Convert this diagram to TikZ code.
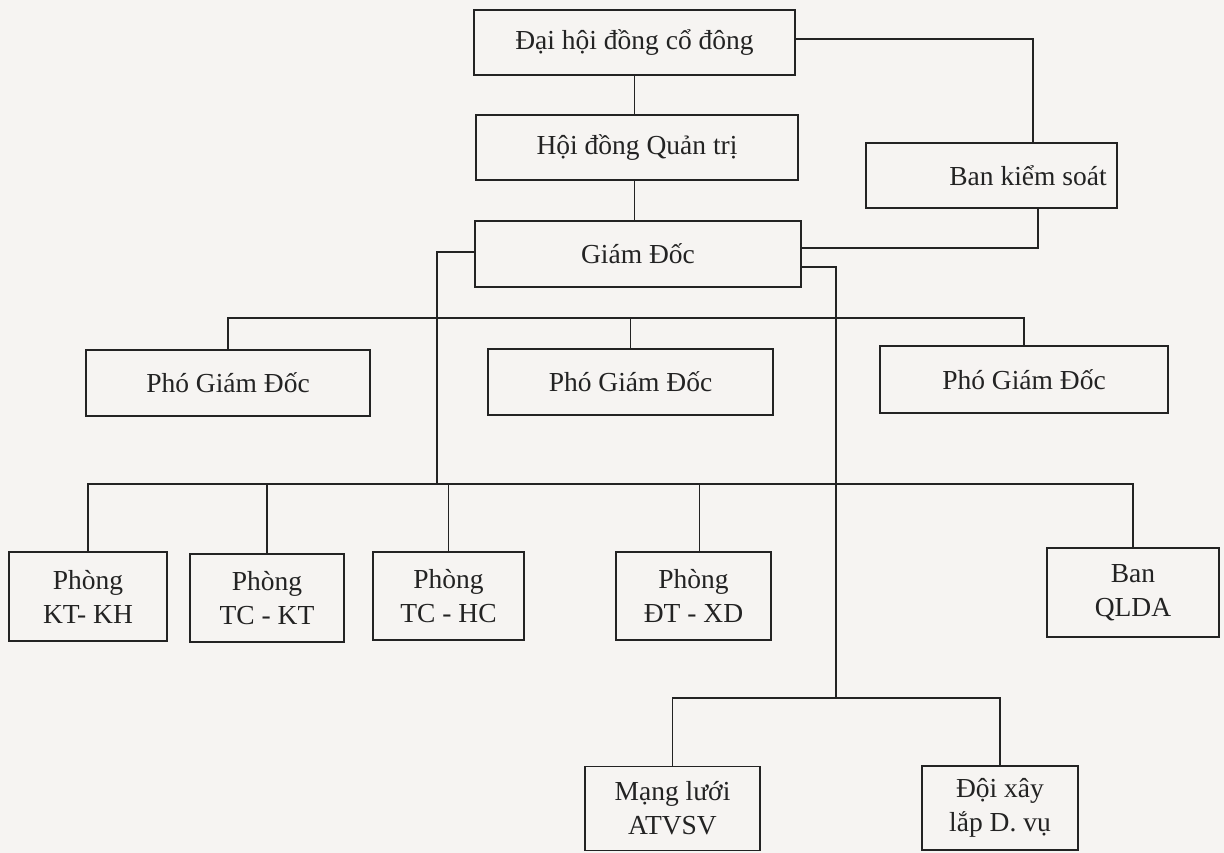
\documentclass[tikz,border=0pt]{standalone}
\usepackage{fontspec}
\setmainfont{Liberation Serif}
\usetikzlibrary{calc}
\definecolor{paper}{RGB}{246,244,242}
\definecolor{ink}{RGB}{35,35,35}
\tikzset{
  box/.style={draw=ink, line width=1.5pt, rectangle, inner sep=0pt, align=center,
              font=\fontsize{27.5}{34}\selectfont, text=ink},
  link/.style={draw=ink, line width=1.5pt},
  lbl/.style={inner sep=0pt, font=\fontsize{27.5}{34}\selectfont, text=ink}
}
\begin{document}
\begin{tikzpicture}[x=1pt,y=-1pt]
\fill[paper] (0,0) rectangle (1224,853);
\useasboundingbox (0,0) rectangle (1224,853);

% boxes
\node[box, minimum width=321, minimum height=65] (dh) at (634.5,42.5) {Đại hội đồng cổ đông};
\node[box, minimum width=322, minimum height=65] (hdqt) at (637,147.5) {Hội đồng Quản trị};
\node[box, minimum width=251, minimum height=65] (bks) at (991.5,175.5) {};
\node[lbl] (bkst) at (1028,175.5) {Ban kiểm soát};
\node[box, minimum width=326, minimum height=66] (gd) at (638,254) {Giám Đốc};

\node[box, minimum width=284, minimum height=66] (pgd1) at (228,383) {Phó Giám Đốc};
\node[box, minimum width=285, minimum height=66] (pgd2) at (630.5,382) {Phó Giám Đốc};
\node[box, minimum width=288, minimum height=67] (pgd3) at (1024,379.5) {Phó Giám Đốc};

\node[box, minimum width=158, minimum height=89] (ktkh) at (88,596.5) {Phòng\\KT- KH};
\node[box, minimum width=154, minimum height=88] (tckt) at (267,598) {Phòng\\TC - KT};
\node[box, minimum width=151, minimum height=88] (tchc) at (448.5,596) {Phòng\\TC - HC};
\node[box, minimum width=155, minimum height=88] (dtxd) at (693.5,596) {Phòng\\ĐT - XD};
\node[box, minimum width=172, minimum height=89] (qlda) at (1133,592.5) {Ban\\QLDA};

\node[box, minimum width=175, minimum height=84] (ml) at (672.5,808.5) {Mạng lưới\\ATVSV};
\node[box, minimum width=156, minimum height=84] (dxl) at (1000,808) {Đội xây\\lắp D. vụ};

% bus coordinates
\coordinate (b1) at (0,318);
\coordinate (b2) at (0,484);
\coordinate (b3) at (0,698);
\coordinate (gdl) at (437,0);
\coordinate (gdr) at (836,0);

% top links
\draw[link] (dh.south) -- (dh.south |- hdqt.north);
\draw[link] (hdqt.south -| dh.south) -- (dh.south |- gd.north);
\draw[link] ($(dh.east)+(0,-3.5)$) -| ($(bks.north)+(41.5,0)$);
\draw[link] ($(bks.south)+(46.5,0)$) |- ($(gd.east)+(0,-6)$);

% director to lower levels
\draw[link] ($(gd.west)+(0,-2)$) -| (gdl |- b2);
\draw[link] ($(gd.east)+(0,13)$) -| (gdr |- b3);

% bus 1 : deputy directors
\draw[link] (pgd1.north) |- (b1 -| pgd3.north) -- (pgd3.north);
\draw[link] (pgd2.north) -- (pgd2.north |- b1);

% bus 2 : departments
\draw[link] (ktkh.north) |- (b2 -| qlda.north) -- (qlda.north);
\draw[link] (tckt.north) -- (tckt.north |- b2);
\draw[link] (tchc.north) -- (tchc.north |- b2);
\draw[link] ($(dtxd.north)+(6,0)$) -- ($(dtxd.north |- b2)+(6,0)$);

% bus 3
\draw[link] (ml.north) |- (b3 -| dxl.north) -- (dxl.north);
\end{tikzpicture}
\end{document}
